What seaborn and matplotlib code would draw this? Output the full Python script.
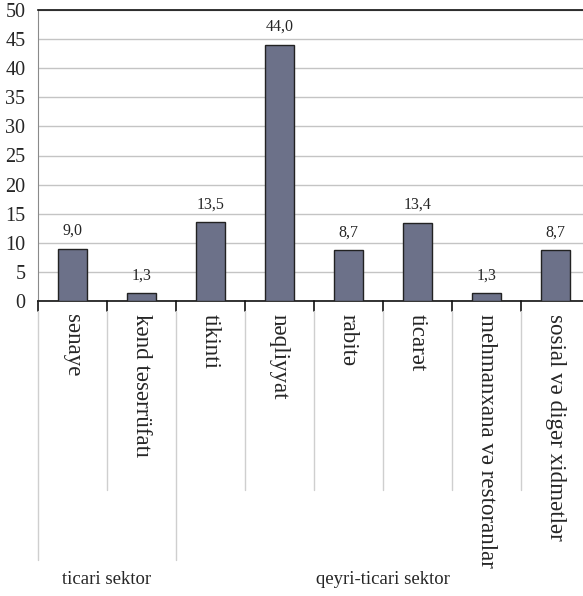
import matplotlib
matplotlib.use("Agg")
import matplotlib.pyplot as plt
import matplotlib.transforms as mtransforms
import seaborn as sns
import pandas as pd

# Sector shares (%)
categories = ["sənaye", "kənd təsərrüfatı", "tikinti", "nəqliyyat", "rabitə",
              "ticarət", "mehmanxana və restoranlar", "sosial və digər xidmətlər"]
values = [9.0, 1.3, 13.5, 44.0, 8.7, 13.4, 1.3, 8.7]
value_labels = ["9,0", "1,3", "13,5", "44,0", "8,7", "13,4", "1,3", "8,7"]
groups = ["ticari sektor", "qeyri-ticari sektor"]
group_sizes = [2, 6]
y_ticks = [0, 5, 10, 15, 20, 25, 30, 35, 40, 45, 50]

sns.set_style("white")
plt.rcParams["font.family"] = ["Liberation Serif", "DejaVu Serif"]

W, H = 583, 596
fig = plt.figure(figsize=(W / 100, H / 100), dpi=100)
ax = fig.add_axes([38 / W, (H - 301) / H, 552 / W, 291 / H])

df = pd.DataFrame({"sector": categories, "share": values})
sns.barplot(data=df, x="sector", y="share", color="#6c7189", saturation=1,
            width=0.41, edgecolor="#222222", linewidth=1.0, ax=ax, zorder=3)

ax.set_ylim(0, 50)
ax.set_xlim(-0.5, len(categories) - 0.5)
ax.set_yticks(y_ticks)
ax.set_yticklabels([str(t) for t in y_ticks], fontsize=14.5)
ax.yaxis.grid(True, color="#c4c4c4", linewidth=1.0, zorder=0)
ax.set_axisbelow(True)
ax.set_xlabel("")
ax.set_ylabel("")

ax.spines["right"].set_visible(False)
ax.spines["top"].set_color("#111111")
ax.spines["top"].set_linewidth(1.2)
ax.spines["left"].set_color("#8a8a8a")
ax.spines["bottom"].set_color("#111111")
ax.spines["bottom"].set_linewidth(1.2)
ax.tick_params(axis="y", length=3, color="#8a8a8a", pad=6)
ax.tick_params(axis="x", length=0, pad=9)
ax.set_xticks(range(len(categories)))
ax.set_xticklabels(categories, rotation=270, fontsize=16.6, va="top", ha="center")

# Value labels above bars
for i, (v, lab) in enumerate(zip(values, value_labels)):
    ax.annotate(lab, (i, v), xytext=(0, 10), textcoords="offset points",
                ha="center", va="baseline", fontsize=11.5)

# Separators below the category axis (x in data, y in figure pixels)
trans = mtransforms.blended_transform_factory(ax.transData, fig.transFigure)
def fy(px):
    return (H - px) / H

boundaries = [i - 0.5 for i in range(len(categories) + 1)]
group_edges = [-0.5]
for s in group_sizes:
    group_edges.append(group_edges[-1] + s)
for b in boundaries:
    ax.plot([b, b], [fy(301), fy(311)], transform=trans, color="#111111",
            linewidth=1.2, clip_on=False)
    bottom = 560 if b in group_edges[:-1] else 490
    ax.plot([b, b], [fy(311), fy(bottom)], transform=trans, color="#cfcfcf",
            linewidth=1.0, clip_on=False)

# Group labels
for g, lo, hi in zip(groups, group_edges[:-1], group_edges[1:]):
    ax.text((lo + hi) / 2, fy(580), g, transform=trans, ha="center",
            va="center", fontsize=13.5)

fig.savefig("out.png", dpi=100)
